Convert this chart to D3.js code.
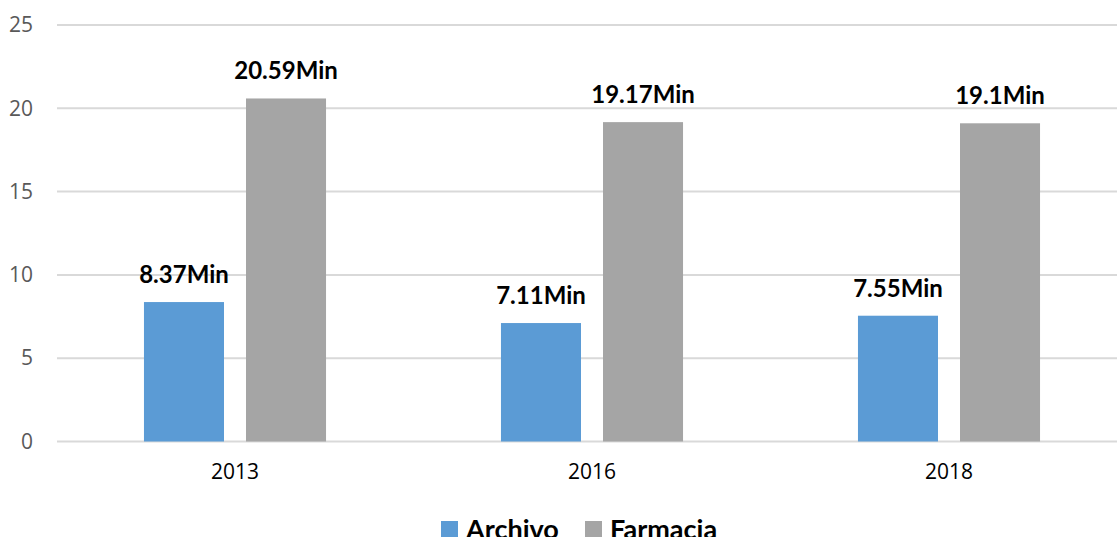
<!DOCTYPE html>
<html>
<head>
<meta charset="utf-8">
<script src="https://cdn.jsdelivr.net/npm/d3@7"></script>
<style>
  html, body { margin: 0; padding: 0; background: #fff; overflow: hidden; }
</style>
</head>
<body>
<script>
var years = ["2013", "2016", "2018"];
var series = ["Archivo", "Farmacia"];
var archivo = [8.37, 7.11, 7.55];
var farmacia = [20.59, 19.17, 19.1];
var labels = [["8.37Min", "7.11Min", "7.55Min"], ["20.59Min", "19.17Min", "19.1Min"]];
var yTicks = [0, 5, 10, 15, 20, 25];
var colors = ["#5B9BD5", "#A5A5A5"];

var values = [archivo, farmacia];

var width = 1117, height = 537;

const svg = d3.select("body")
    .append("svg")
    .attr("width", width)
    .attr("height", height);

// plot area runs a bit past the right edge, like the original
var x0 = d3.scaleBand()
    .domain(years)
    .range([56.5, 1127.5])
    .paddingInner(0.49)
    .paddingOuter(0.245);

var x1 = d3.scaleBand()
    .domain(series)
    .range([0, x0.bandwidth()])
    .paddingInner(0.2157);

var y = d3.scaleLinear()
    .domain([0, 25])
    .range([441.5, 25]);

// gridlines
svg.append("g")
    .selectAll("line")
    .data(yTicks)
    .enter()
    .append("line")
    .attr("x1", 57)
    .attr("x2", width)
    .attr("y1", function (d) { return y(d); })
    .attr("y2", function (d) { return y(d); })
    .attr("stroke", "#D9D9D9")
    .attr("stroke-width", 2);

// y axis labels
var yAxis = d3.axisLeft(y).tickValues(yTicks).tickSize(0).tickPadding(0);
var gy = svg.append("g")
    .attr("transform", "translate(33,0)")
    .call(yAxis);
gy.select(".domain").remove();
gy.selectAll("text")
    .attr("font-family", "'Open Sans', sans-serif")
    .attr("font-size", 21)
    .attr("fill", "#595959");

// x axis labels
var xAxis = d3.axisBottom(x0).tickSize(0).tickPadding(0);
var gx = svg.append("g")
    .attr("transform", "translate(0,464)")
    .call(xAxis);
gx.select(".domain").remove();
gx.selectAll("text")
    .attr("font-family", "'Open Sans', sans-serif")
    .attr("font-size", 21)
    .attr("fill", "#000");

// bars
series.forEach(function (s, i) {
    var g = svg.append("g");
    g.selectAll("rect")
        .data(values[i])
        .enter()
        .append("rect")
        .attr("x", function (d, j) { return x0(years[j]) + x1(s); })
        .attr("y", function (d) { return y(d); })
        .attr("width", x1.bandwidth())
        .attr("height", function (d) { return y(0) - y(d); })
        .attr("fill", colors[i]);

    g.selectAll("text")
        .data(values[i])
        .enter()
        .append("text")
        .attr("x", function (d, j) { return x0(years[j]) + x1(s) + x1.bandwidth() / 2; })
        .attr("y", function (d) { return y(d) - 19; })
        .attr("text-anchor", "middle")
        .attr("font-family", "Lato, sans-serif")
        .attr("font-weight", "bold")
        .attr("font-size", 24)
        .attr("fill", "#000")
        .text(function (d, j) { return labels[i][j]; });
});

// legend, cut by the bottom edge as in the original
var legendX = [441, 585];
var legend = svg.append("g");
series.forEach(function (s, i) {
    legend.append("rect")
        .attr("x", legendX[i])
        .attr("y", 521)
        .attr("width", 17)
        .attr("height", 17)
        .attr("fill", colors[i]);
    legend.append("text")
        .attr("x", legendX[i] + 25)
        .attr("y", 539)
        .attr("font-family", "Lato, sans-serif")
        .attr("font-weight", "bold")
        .attr("font-size", 27)
        .attr("fill", "#000")
        .text(s);
});
</script>
</body>
</html>
